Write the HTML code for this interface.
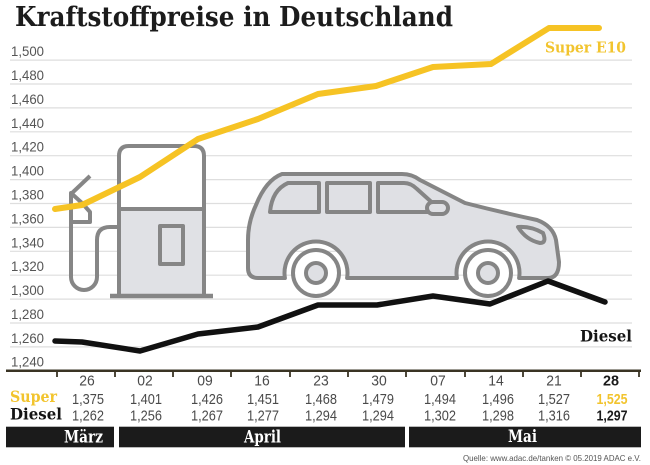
<!DOCTYPE html>
<html><head><meta charset="utf-8"><style>
html,body{margin:0;padding:0;background:#fff;}
svg{display:block;}
.yl{font-family:"Liberation Sans",sans-serif;font-size:14px;fill:#555;}
.num{font-family:"Liberation Sans",sans-serif;font-size:15px;fill:#4a4a4a;}
.slab{font-family:"DejaVu Serif",serif;font-weight:bold;}
</style></head><body>
<svg width="650" height="465" viewBox="0 0 650 465" xmlns="http://www.w3.org/2000/svg">
<rect width="650" height="465" fill="#fff"/>
<text x="15" y="26" class="slab" font-size="27" fill="#1c1c1c" textLength="438" lengthAdjust="spacingAndGlyphs">Kraftstoffpreise in Deutschland</text>

<g stroke="#dedede" stroke-width="1.2">
<line x1="10" x2="632" y1="60.1" y2="60.1"/>
<line x1="10" x2="632" y1="84" y2="84"/>
<line x1="10" x2="632" y1="107.9" y2="107.9"/>
<line x1="10" x2="632" y1="131.8" y2="131.8"/>
<line x1="10" x2="632" y1="155.7" y2="155.7"/>
<line x1="10" x2="632" y1="179.6" y2="179.6"/>
<line x1="10" x2="632" y1="203.5" y2="203.5"/>
<line x1="10" x2="632" y1="227.4" y2="227.4"/>
<line x1="10" x2="632" y1="251.3" y2="251.3"/>
<line x1="10" x2="632" y1="275.2" y2="275.2"/>
<line x1="10" x2="632" y1="299.1" y2="299.1"/>
<line x1="10" x2="632" y1="323" y2="323"/>
<line x1="10" x2="632" y1="346.9" y2="346.9"/>
</g>
<g class="yl">
<text x="11" y="56.1" textLength="33" lengthAdjust="spacingAndGlyphs">1,500</text>
<text x="11" y="80" textLength="33" lengthAdjust="spacingAndGlyphs">1,480</text>
<text x="11" y="103.9" textLength="33" lengthAdjust="spacingAndGlyphs">1,460</text>
<text x="11" y="127.8" textLength="33" lengthAdjust="spacingAndGlyphs">1,440</text>
<text x="11" y="151.7" textLength="33" lengthAdjust="spacingAndGlyphs">1,420</text>
<text x="11" y="175.6" textLength="33" lengthAdjust="spacingAndGlyphs">1,400</text>
<text x="11" y="199.5" textLength="33" lengthAdjust="spacingAndGlyphs">1,380</text>
<text x="11" y="223.4" textLength="33" lengthAdjust="spacingAndGlyphs">1,360</text>
<text x="11" y="247.3" textLength="33" lengthAdjust="spacingAndGlyphs">1,340</text>
<text x="11" y="271.2" textLength="33" lengthAdjust="spacingAndGlyphs">1,320</text>
<text x="11" y="295.1" textLength="33" lengthAdjust="spacingAndGlyphs">1,300</text>
<text x="11" y="319" textLength="33" lengthAdjust="spacingAndGlyphs">1,280</text>
<text x="11" y="342.9" textLength="33" lengthAdjust="spacingAndGlyphs">1,260</text>
<text x="11" y="366.3" textLength="33" lengthAdjust="spacingAndGlyphs">1,240</text>
</g>

<!-- Pump -->
<g stroke="#868686" stroke-width="4" fill="none" stroke-linejoin="round">
<path d="M119,209 V156 Q119,146 129,146 H194 Q204,146 204,156 V209 Z" fill="#fff"/>
<rect x="119" y="209" width="85" height="87" fill="#e0e1e5"/>
<rect x="160" y="226" width="23" height="38" fill="#e0e1e5"/>
<line x1="110" y1="296" x2="213" y2="296" stroke-width="4.5"/>
<path d="M119,227 H110 Q97,227 97,240 V277 A13,13 0 0 1 71,277 V193"/>
<path d="M71,193 L82,203 L90,212 V222 H71 Z" fill="#fff"/>
<line x1="71" y1="194" x2="90" y2="176"/>
</g>

<!-- Car -->
<g stroke="#858585" stroke-width="4" stroke-linejoin="round">
<path fill="#dfe0e4" d="M282,174 H402 Q412,174 420,180 L465,203 Q500,212 537,220 Q553,226 556,240 L559,262 Q559,278 548,278 H519.1 A31.5,31.5 0 1 0 456.9,278 H347.1 A31.5,31.5 0 1 0 284.9,278 H258 Q248,278 248,268 V240 Q248,222 256,205 Q266,180 282,174 Z"/>
<path fill="#dfe0e4" d="M270,212 Q272,190 288,183 H319 V212 Z"/>
<rect fill="#dfe0e4" x="327" y="183" width="43" height="29"/>
<path fill="#dfe0e4" d="M378,183 H404 Q411,183 417,189 L437,207 V212 H378 Z"/>
<rect fill="#dfe0e4" x="427" y="202" width="21" height="12" rx="6"/>
<path fill="#dfe0e4" d="M518,227 Q531,226 543,233 Q547,243 540,243 Q526,240 518,227 Z"/>
<circle cx="316" cy="273" r="23" fill="#fff"/>
<circle cx="316" cy="273" r="10" fill="#dfe0e4"/>
<circle cx="488" cy="273" r="23" fill="#fff"/>
<circle cx="488" cy="273" r="10" fill="#dfe0e4"/>
</g>

<!-- Series -->
<polyline fill="none" stroke="#f6c324" stroke-width="6" stroke-linejoin="round" stroke-linecap="round"
 points="55,209 82,205 140,177 198,139 258,119 318,94 376,86 433,67 491,64 549,28 599,28"/>
<polyline fill="none" stroke="#111" stroke-width="5.5" stroke-linejoin="round" stroke-linecap="round"
 points="55,341 82,342 140,351 198,334 258,327 318,305 377,305 433,296 490,304 548,281 605,302"/>

<text x="545" y="52.5" class="slab" font-size="15" fill="#f2c42e" textLength="81" lengthAdjust="spacingAndGlyphs">Super E10</text>
<text x="580" y="341.5" class="slab" font-size="16" fill="#151515" textLength="52" lengthAdjust="spacingAndGlyphs">Diesel</text>

<!-- Axis -->
<line x1="6" x2="641" y1="370.8" y2="370.8" stroke="#3a3424" stroke-width="2.5"/>
<g stroke="#3a3424" stroke-width="1.8">
<line x1="57" x2="57" y1="371" y2="377"/>
<line x1="115" x2="115" y1="371" y2="377"/>
<line x1="173" x2="173" y1="371" y2="377"/>
<line x1="231" x2="231" y1="371" y2="377"/>
<line x1="290" x2="290" y1="371" y2="377"/>
<line x1="348" x2="348" y1="371" y2="377"/>
<line x1="406" x2="406" y1="371" y2="377"/>
<line x1="465" x2="465" y1="371" y2="377"/>
<line x1="523" x2="523" y1="371" y2="377"/>
<line x1="581" x2="581" y1="371" y2="377"/>
<line x1="639" x2="639" y1="371" y2="377"/>
</g>

<!-- Table -->
<g class="num" text-anchor="middle">
<text x="87" y="385.5" textLength="15.5" lengthAdjust="spacingAndGlyphs">26</text>
<text x="145" y="385.5" textLength="15.5" lengthAdjust="spacingAndGlyphs">02</text>
<text x="205" y="385.5" textLength="15.5" lengthAdjust="spacingAndGlyphs">09</text>
<text x="262" y="385.5" textLength="15.5" lengthAdjust="spacingAndGlyphs">16</text>
<text x="321" y="385.5" textLength="15.5" lengthAdjust="spacingAndGlyphs">23</text>
<text x="379" y="385.5" textLength="15.5" lengthAdjust="spacingAndGlyphs">30</text>
<text x="438" y="385.5" textLength="15.5" lengthAdjust="spacingAndGlyphs">07</text>
<text x="496" y="385.5" textLength="15.5" lengthAdjust="spacingAndGlyphs">14</text>
<text x="554" y="385.5" textLength="15.5" lengthAdjust="spacingAndGlyphs">21</text>
<text x="611" y="385.5" textLength="16" lengthAdjust="spacingAndGlyphs" font-weight="bold" fill="#1a1a1a">28</text>

<text x="88" y="404" textLength="32" lengthAdjust="spacingAndGlyphs">1,375</text>
<text x="146" y="404" textLength="32" lengthAdjust="spacingAndGlyphs">1,401</text>
<text x="207" y="404" textLength="32" lengthAdjust="spacingAndGlyphs">1,426</text>
<text x="263" y="404" textLength="32" lengthAdjust="spacingAndGlyphs">1,451</text>
<text x="321" y="404" textLength="32" lengthAdjust="spacingAndGlyphs">1,468</text>
<text x="378" y="404" textLength="32" lengthAdjust="spacingAndGlyphs">1,479</text>
<text x="440" y="404" textLength="32" lengthAdjust="spacingAndGlyphs">1,494</text>
<text x="498" y="404" textLength="32" lengthAdjust="spacingAndGlyphs">1,496</text>
<text x="554" y="404" textLength="32" lengthAdjust="spacingAndGlyphs">1,527</text>
<text x="612" y="404" textLength="31" lengthAdjust="spacingAndGlyphs" font-weight="bold" fill="#f2c42e">1,525</text>

<text x="88" y="420.5" textLength="32" lengthAdjust="spacingAndGlyphs">1,262</text>
<text x="146" y="420.5" textLength="32" lengthAdjust="spacingAndGlyphs">1,256</text>
<text x="207" y="420.5" textLength="32" lengthAdjust="spacingAndGlyphs">1,267</text>
<text x="263" y="420.5" textLength="32" lengthAdjust="spacingAndGlyphs">1,277</text>
<text x="321" y="420.5" textLength="32" lengthAdjust="spacingAndGlyphs">1,294</text>
<text x="378" y="420.5" textLength="32" lengthAdjust="spacingAndGlyphs">1,294</text>
<text x="440" y="420.5" textLength="32" lengthAdjust="spacingAndGlyphs">1,302</text>
<text x="498" y="420.5" textLength="32" lengthAdjust="spacingAndGlyphs">1,298</text>
<text x="554" y="420.5" textLength="32" lengthAdjust="spacingAndGlyphs">1,316</text>
<text x="612" y="420.5" textLength="31" lengthAdjust="spacingAndGlyphs" font-weight="bold" fill="#1a1a1a">1,297</text>
</g>
<text x="10" y="402" class="slab" font-size="16" fill="#f2c42e" textLength="47" lengthAdjust="spacingAndGlyphs">Super</text>
<text x="10" y="419.5" class="slab" font-size="16" fill="#151515" textLength="52" lengthAdjust="spacingAndGlyphs">Diesel</text>

<rect x="6" y="426.7" width="108" height="20.6" fill="#1b1b1b"/>
<rect x="119" y="426.7" width="286" height="20.6" fill="#1b1b1b"/>
<rect x="409" y="426.7" width="232" height="20.6" fill="#1b1b1b"/>
<text x="64" y="442.7" class="slab" font-size="17" fill="#fff" textLength="39" lengthAdjust="spacingAndGlyphs">März</text>
<text x="244" y="442.5" class="slab" font-size="17" fill="#fff" textLength="37" lengthAdjust="spacingAndGlyphs">April</text>
<text x="508" y="442.2" class="slab" font-size="17" fill="#fff" textLength="29" lengthAdjust="spacingAndGlyphs">Mai</text>

<text x="463" y="461" font-family="Liberation Sans, sans-serif" font-size="8.5" fill="#555" textLength="178" lengthAdjust="spacingAndGlyphs">Quelle: www.adac.de/tanken   © 05.2019  ADAC e.V.</text>
</svg>
</body></html>
